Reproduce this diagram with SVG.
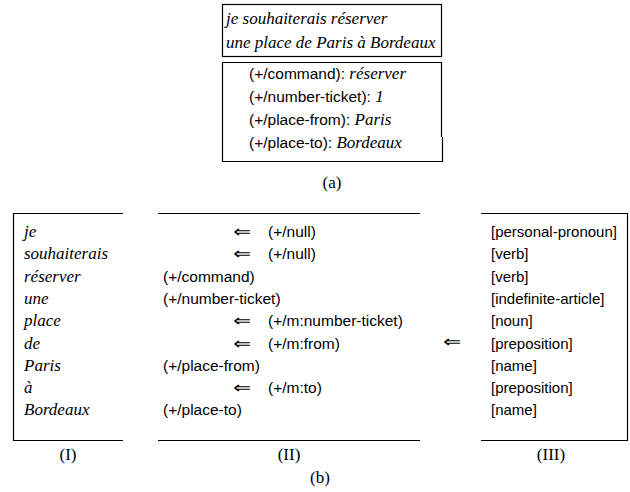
<svg xmlns="http://www.w3.org/2000/svg" width="630" height="492" viewBox="0 0 630 492">
<style>
.it{font-family:"Liberation Serif",serif;font-style:italic;font-size:17px;fill:#000}
.rm{font-family:"Liberation Serif",serif;font-size:17px;fill:#000}
.sf{font-family:"Liberation Sans",Arial,sans-serif;font-size:15.5px;fill:#000}
.sf15{font-family:"Liberation Sans",Arial,sans-serif;font-size:15px;fill:#000}
.arr{font-family:"DejaVu Sans",sans-serif;font-size:16px;font-weight:200;fill:#000}
.ln{fill:none;stroke:#000;stroke-width:1.2}
</style>
<rect width="630" height="492" fill="#fff"/>
<g id="sentence-box">
<rect class="ln" x="222.5" y="4.5" width="219" height="52"/>
<text class="it" x="226" y="24">je souhaiterais réserver</text>
<text class="it" x="226" y="48">une place de Paris à Bordeaux</text>
</g>
<g id="frame-box">
<path class="ln" d="M222.5 62.5 H441.5 V137 M442.5 137 V161.5 H222.5 V62.5"/>
<text x="249" y="79"><tspan class="sf">(+/command): </tspan><tspan class="it">réserver</tspan></text>
<text x="249" y="102"><tspan class="sf">(+/number-ticket): </tspan><tspan class="it">1</tspan></text>
<text x="249" y="125"><tspan class="sf">(+/place-from): </tspan><tspan class="it">Paris</tspan></text>
<text x="249" y="148"><tspan class="sf">(+/place-to): </tspan><tspan class="it">Bordeaux</tspan></text>
</g>
<text class="rm" x="332" y="188" text-anchor="middle">(a)</text>
<g id="col-I">
<path class="ln" d="M123 213.5 H13.5 V440.5 H123"/>
<text class="it" x="24" y="237">je</text>
<text class="it" x="24" y="259.3">souhaiterais</text>
<text class="it" x="24" y="281.6">réserver</text>
<text class="it" x="24" y="303.9">une</text>
<text class="it" x="24" y="326.2">place</text>
<text class="it" x="24" y="348.5">de</text>
<text class="it" x="24" y="370.8">Paris</text>
<text class="it" x="24" y="393.1">à</text>
<text class="it" x="24" y="415.4">Bordeaux</text>
<text class="rm" x="68" y="460" text-anchor="middle">(I)</text>
</g>
<g id="col-II">
<path class="ln" d="M158 213.5 H420 M158 440.5 H420"/>
<text class="sf" x="268" y="237">(+/null)</text>
<text class="sf" x="268" y="259.3">(+/null)</text>
<text class="sf" x="163" y="281.6">(+/command)</text>
<text class="sf" x="163" y="303.9">(+/number-ticket)</text>
<text class="sf" x="268" y="326.2">(+/m:number-ticket)</text>
<text class="sf" x="268" y="348.5">(+/m:from)</text>
<text class="sf" x="163" y="370.8">(+/place-from)</text>
<text class="sf" x="268" y="393.1">(+/m:to)</text>
<text class="sf" x="163" y="415.4">(+/place-to)</text>
<text class="rm" x="289" y="460" text-anchor="middle">(II)</text>
</g>
<g id="col-III">
<path class="ln" d="M481 213.5 H627.5 V440.5 H481"/>
<text class="sf15" x="491" y="237">[personal-pronoun]</text>
<text class="sf15" x="491" y="259.3">[verb]</text>
<text class="sf15" x="491" y="281.6">[verb]</text>
<text class="sf15" x="491" y="303.9">[indefinite-article]</text>
<text class="sf15" x="491" y="326.2">[noun]</text>
<text class="sf15" x="491" y="348.5">[preposition]</text>
<text class="sf15" x="491" y="370.8">[name]</text>
<text class="sf15" x="491" y="393.1">[preposition]</text>
<text class="sf15" x="491" y="415.4">[name]</text>
<text class="rm" x="551" y="460" text-anchor="middle">(III)</text>
</g>
<g id="connectors">
<text class="arr" transform="translate(233 237) scale(1.35 1)">⇐</text>
<text class="arr" transform="translate(233 259.3) scale(1.35 1)">⇐</text>
<text class="arr" transform="translate(233 326.2) scale(1.35 1)">⇐</text>
<text class="arr" transform="translate(233 348.5) scale(1.35 1)">⇐</text>
<text class="arr" transform="translate(233 393.1) scale(1.35 1)">⇐</text>
<text class="arr" transform="translate(443 347) scale(1.35 1)">⇐</text>
</g>
<text class="rm" x="320" y="483" text-anchor="middle">(b)</text>
</svg>
